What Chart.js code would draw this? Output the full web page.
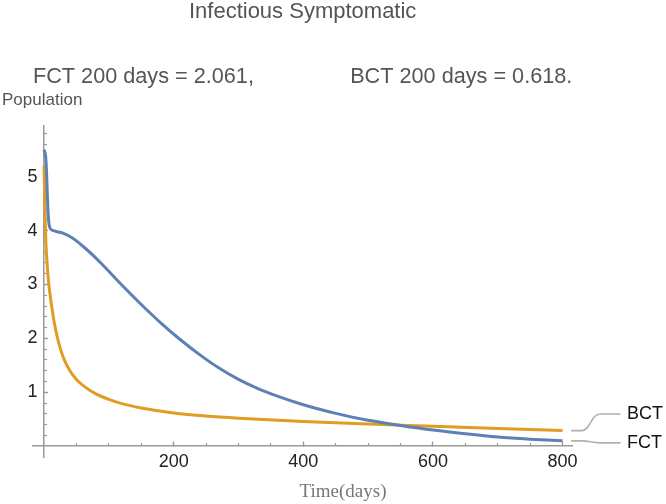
<!DOCTYPE html>
<html>
<head>
<meta charset="utf-8">
<script src="https://cdn.jsdelivr.net/npm/chart.js@4.4.0/dist/chart.umd.min.js"></script>
<style>
html,body{margin:0;padding:0;background:#ffffff;}
#wrap{width:666px;height:504px;position:relative;}
</style>
</head>
<body>
<div id="wrap"><canvas id="c" width="666" height="504"></canvas></div>
<script>
// ---- chart text ----
const chartTitle = "Infectious Symptomatic";
const chartSubtitle = "FCT 200 days = 2.061,                BCT 200 days = 0.618.";
const yAxisLabel = "Population";
const xAxisLabel = "Time(days)";
const seriesNames = ["FCT", "BCT"];

// ---- series values ----
const fctTimes  = [0, 2, 3, 4, 5, 6, 7, 8, 10, 15, 20, 30, 40, 50, 60, 75, 90, 120, 150, 180, 210, 240, 270, 300, 330, 360, 400, 450, 500, 550, 600, 650, 700, 750, 800];
const fctValues = [5.5, 5.42, 5.3, 5.05, 4.7, 4.4, 4.2, 4.1, 4.03, 4.0, 3.98, 3.95, 3.89, 3.81, 3.71, 3.55, 3.37, 2.99, 2.63, 2.29, 1.98, 1.70, 1.45, 1.24, 1.07, 0.93, 0.77, 0.61, 0.48, 0.385, 0.30, 0.23, 0.17, 0.13, 0.10];

const bctTimes  = [0, 1, 2, 3, 5, 7, 10, 13, 16, 20, 25, 30, 40, 50, 60, 80, 100, 120, 150, 200, 250, 300, 400, 500, 550, 600, 700, 800];
const bctValues = [5.2, 4.6, 4.1, 3.75, 3.35, 3.05, 2.75, 2.5, 2.28, 2.05, 1.82, 1.64, 1.4, 1.24, 1.13, 0.97, 0.87, 0.79, 0.71, 0.618, 0.56, 0.52, 0.46, 0.41, 0.39, 0.37, 0.33, 0.29];

// ---- ticks ----
const xTickValues = [200, 400, 600, 800];
const yTickValues = [1, 2, 3, 4, 5];
const xMinorStep = 50;
const yMinorStep = 0.2;

// ---- styling ----
const fctColor = '#5E81B5';
const bctColor = '#E19C24';
const axisColor = '#9a9a9a';
const xRange = [-17, 815];
const yRange = [-0.2, 5.95];

function toPoints(ts, vs) { return ts.map((t, i) => ({x: t, y: vs[i]})); }

const extrasPlugin = {
  id: 'extras',
  afterDraw(chart) {
    const ctx = chart.ctx;
    ctx.save();
    // axis labels
    ctx.font = '17px "Liberation Sans", Arial, sans-serif';
    ctx.fillStyle = '#555555';
    ctx.textAlign = 'left';
    ctx.textBaseline = 'middle';
    ctx.fillText(yAxisLabel, 2, 100);
    ctx.font = '19px "Liberation Serif", "Times New Roman", serif';
    ctx.fillStyle = '#777777';
    ctx.textAlign = 'center';
    ctx.fillText(xAxisLabel, 343, 492);
    // callout labels
    const offsets = [2, -16.6];
    chart.data.datasets.forEach((ds, i) => {
      const meta = chart.getDatasetMeta(i);
      const last = meta.data[meta.data.length - 1];
      const ex = last.x, ey = last.y;
      const ly = ey + offsets[i];
      ctx.strokeStyle = '#b0b0b0';
      ctx.lineWidth = 1.6;
      ctx.beginPath();
      ctx.moveTo(ex + 8.5, ey);
      ctx.lineTo(ex + 19, ey);
      ctx.bezierCurveTo(ex + 28, ey, ex + 28, ly, ex + 38, ly);
      ctx.lineTo(ex + 58, ly);
      ctx.stroke();
      ctx.font = '18px "Liberation Sans", Arial, sans-serif';
      ctx.fillStyle = '#111111';
      ctx.textAlign = 'left';
      ctx.textBaseline = 'middle';
      ctx.fillText(ds.label, ex + 64.5, ly);
    });
    ctx.restore();
  }
};

const tickFont = {size: 18, family: '"Liberation Sans", Arial, sans-serif'};

new Chart(document.getElementById('c'), {
  type: 'line',
  data: {
    datasets: [
      {label: seriesNames[0], data: toPoints(fctTimes, fctValues), borderColor: fctColor, backgroundColor: fctColor,
       borderWidth: 3, pointRadius: 0, cubicInterpolationMode: 'monotone', xAxisID: 'x', yAxisID: 'y'},
      {label: seriesNames[1], data: toPoints(bctTimes, bctValues), borderColor: bctColor, backgroundColor: bctColor,
       borderWidth: 3, pointRadius: 0, cubicInterpolationMode: 'monotone', xAxisID: 'x', yAxisID: 'y'}
    ]
  },
  options: {
    responsive: false,
    animation: false,
    devicePixelRatio: 1,
    layout: {padding: {left: 33, right: 93.7, top: 0, bottom: 47}},
    plugins: {
      legend: {display: false},
      tooltip: {enabled: false},
      title: {display: true, text: chartTitle, fullSize: false, color: '#555555',
              font: {size: 22, family: '"Liberation Sans", Arial, sans-serif', weight: 'normal', lineHeight: 0.85},
              padding: {top: 3, bottom: 0}},
      subtitle: {display: true, text: chartSubtitle, fullSize: false, color: '#555555',
              font: {size: 22, family: '"Liberation Sans", Arial, sans-serif', weight: 'normal', lineHeight: 1},
              padding: {top: 44.3, bottom: 37.5}}
    },
    scales: {
      x: {
        type: 'linear', axis: 'x', min: xRange[0], max: xRange[1], position: {y: 0},
        afterBuildTicks: s => { s.ticks = xTickValues.map(v => ({value: v})); },
        afterFit: s => { s.height = 0; },
        grid: {drawOnChartArea: false, tickLength: -5, color: axisColor, tickWidth: 1.3},
        border: {color: axisColor, width: 1.5},
        ticks: {padding: 10, font: tickFont, color: '#222222', maxRotation: 0, autoSkip: false}
      },
      xMinor: {
        type: 'linear', axis: 'x', min: xRange[0], max: xRange[1], position: {y: 0},
        afterBuildTicks: s => { s.ticks = s.ticks.filter(t => t.value > 0); },
        afterFit: s => { s.height = 0; },
        grid: {drawOnChartArea: false, tickLength: -3, color: axisColor, tickWidth: 1.2},
        border: {display: false},
        ticks: {display: false, stepSize: xMinorStep, includeBounds: false, maxTicksLimit: 100, autoSkip: false}
      },
      y: {
        type: 'linear', axis: 'y', min: yRange[0], max: yRange[1], position: {x: 0},
        afterBuildTicks: s => { s.ticks = yTickValues.map(v => ({value: v})); },
        afterFit: s => { s.width = 0; },
        grid: {drawOnChartArea: false, tickLength: -5, color: axisColor, tickWidth: 1.3},
        border: {color: axisColor, width: 1.5},
        ticks: {display: false}
      },
      yMinor: {
        type: 'linear', axis: 'y', min: yRange[0], max: yRange[1], position: {x: 0},
        afterBuildTicks: s => { s.ticks = s.ticks.filter(t => t.value > 0.01); },
        afterFit: s => { s.width = 0; },
        grid: {drawOnChartArea: false, tickLength: -3, color: axisColor, tickWidth: 1.2},
        border: {display: false},
        ticks: {display: false, stepSize: yMinorStep, includeBounds: false, maxTicksLimit: 100, autoSkip: false}
      },
      yLabels: {
        type: 'linear', axis: 'y', min: yRange[0], max: yRange[1], position: 'left',
        afterBuildTicks: s => { s.ticks = yTickValues.map(v => ({value: v})); },
        afterFit: s => { s.width = 0; },
        grid: {display: false, drawTicks: false},
        border: {display: false},
        ticks: {mirror: true, crossAlign: 'far', padding: -5.5, font: tickFont, color: '#222222', autoSkip: false}
      }
    }
  },
  plugins: [extrasPlugin]
});
</script>
</body>
</html>
